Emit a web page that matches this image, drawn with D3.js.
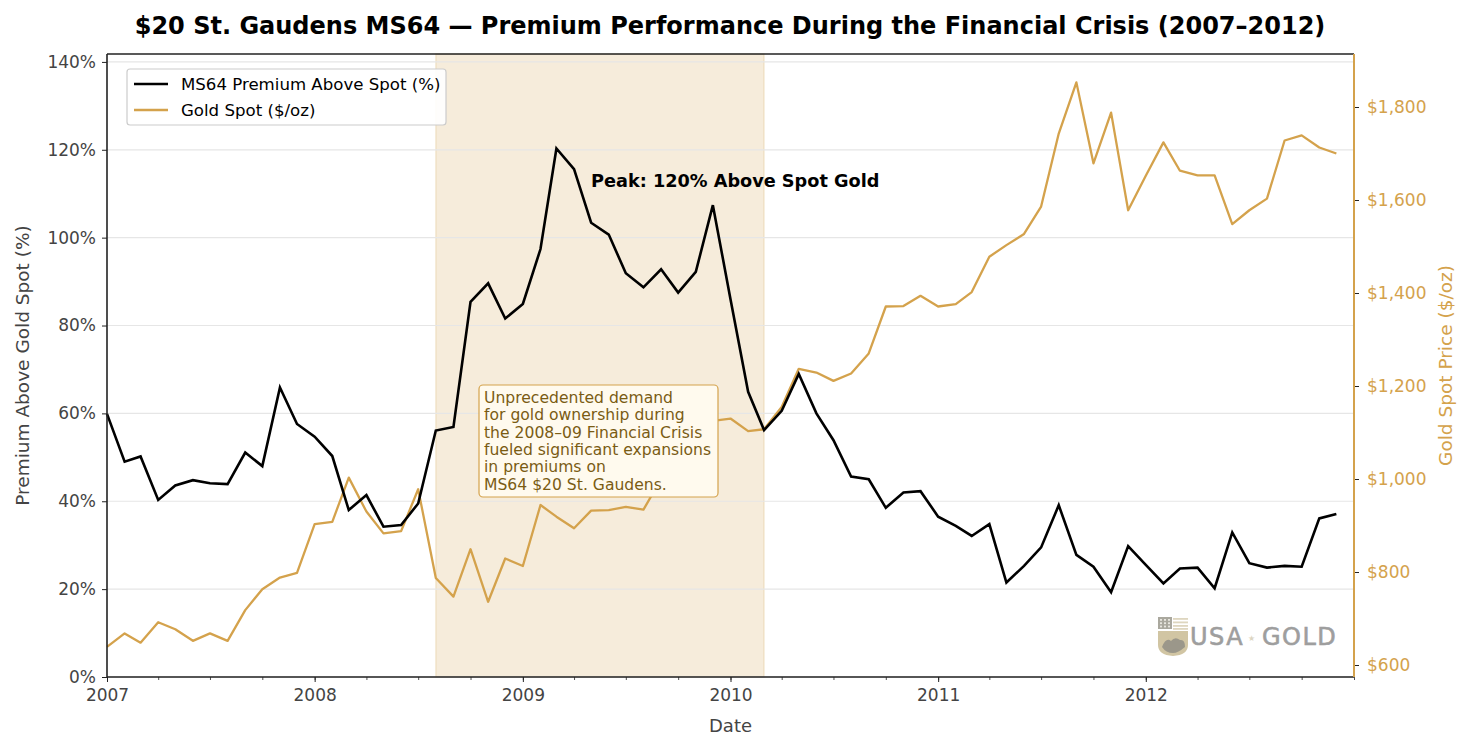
<!DOCTYPE html>
<html>
<head>
<meta charset="utf-8">
<script src="https://cdn.jsdelivr.net/npm/d3@7"></script>
<style>
  body { margin: 0; background: #fff; }
  text { font-family: "DejaVu Sans", sans-serif; }
</style>
</head>
<body>
<script>
// monthly observations, first of each month
var months = [
  "2007-01","2007-02","2007-03","2007-04","2007-05","2007-06","2007-07","2007-08","2007-09","2007-10","2007-11","2007-12",
  "2008-01","2008-02","2008-03","2008-04","2008-05","2008-06","2008-07","2008-08","2008-09","2008-10","2008-11","2008-12",
  "2009-01","2009-02","2009-03","2009-04","2009-05","2009-06","2009-07","2009-08","2009-09","2009-10","2009-11","2009-12",
  "2010-01","2010-02","2010-03","2010-04","2010-05","2010-06","2010-07","2010-08","2010-09","2010-10","2010-11","2010-12",
  "2011-01","2011-02","2011-03","2011-04","2011-05","2011-06","2011-07","2011-08","2011-09","2011-10","2011-11","2011-12",
  "2012-01","2012-02","2012-03","2012-04","2012-05","2012-06","2012-07","2012-08","2012-09","2012-10","2012-11","2012-12"
];

var premium = [
  59.9, 49.0, 50.2, 40.3, 43.6, 44.8, 44.1, 43.9, 51.1, 48.0, 65.9, 57.6,
  54.7, 50.3, 38.0, 41.4, 34.2, 34.6, 39.5, 56.1, 56.9, 85.4, 89.6, 81.6,
  84.9, 97.4, 120.3, 115.6, 103.4, 100.7, 91.9, 88.7, 92.8, 87.5, 92.2, 107.4,
  86.0, 64.9, 56.2, 60.6, 69.0, 60.0, 53.9, 45.6, 45.0, 38.5, 42.0, 42.3,
  36.5, 34.4, 32.1, 34.8, 21.5, 25.3, 29.5, 39.1, 27.8, 25.1, 19.3, 29.8,
  25.5, 21.3, 24.7, 24.9, 20.2, 32.9, 25.9, 24.9, 25.3, 25.1, 36.1, 37.1
];

var goldSpot = [
  639, 668, 648, 692, 677, 652, 668, 652, 718, 763, 788, 798,
  903, 908, 1003, 930, 883, 888, 978, 787, 747, 849, 736, 829,
  813, 944, 919, 894, 932, 933, 940, 934, 1000, 1062, 1133, 1125,
  1130, 1103, 1107, 1155, 1237, 1229, 1211, 1227, 1270, 1371, 1372, 1394,
  1371, 1376, 1402, 1478, 1503, 1527, 1586, 1743, 1853, 1679, 1788, 1578,
  1652, 1724, 1663, 1653, 1653, 1548, 1578, 1603, 1728, 1739, 1713, 1700
];

var crisisSpan = ["2008-08-01", "2010-03-01"];
var yearTicks = ["2007", "2008", "2009", "2010", "2011", "2012"];
var premiumTicks = [0, 20, 40, 60, 80, 100, 120, 140];
var goldTicks = [600, 800, 1000, 1200, 1400, 1600, 1800];
var noteLines = [
  "Unprecedented demand",
  "for gold ownership during",
  "the 2008\u201309 Financial Crisis",
  "fueled significant expansions",
  "in premiums on",
  "MS64 $20 St. Gaudens."
];

(function() {
  var W = 1471, H = 750;
  var mLeft = 107, mRight = 1354, mTop = 54, mBottom = 677;
  var gold = "#d4a24c";
  var tickFont = "17px";
  var parse = d3.utcParse("%Y-%m");
  var parseDay = d3.utcParse("%Y-%m-%d");

  var data = months.map(function(m, i) {
    return { date: parse(m), premium: premium[i], gold: goldSpot[i] };
  });

  var svg = d3.select("body").append("svg")
    .attr("width", W)
    .attr("height", H);

  var x = d3.scaleUtc()
    .domain([parseDay("2007-01-01"), parseDay("2013-01-01")])
    .range([mLeft, mRight]);
  var y = d3.scaleLinear().domain([0, 141.8]).range([mBottom, mTop]);
  var y2 = d3.scaleLinear().domain([574.2, 1914]).range([mBottom, mTop]);

  // crisis shading
  var s0 = x(parseDay(crisisSpan[0]));
  var s1 = x(parseDay(crisisSpan[1]));
  svg.append("rect")
    .attr("x", s0).attr("y", mTop)
    .attr("width", s1 - s0).attr("height", mBottom - mTop)
    .attr("fill", gold).attr("fill-opacity", 0.2)
    .attr("stroke", gold).attr("stroke-opacity", 0.2).attr("stroke-width", 1.5);

  // horizontal grid
  svg.append("g")
    .selectAll("line")
    .data(premiumTicks)
    .enter()
    .append("line")
    .attr("x1", mLeft).attr("x2", mRight)
    .attr("y1", function(d) { return y(d); })
    .attr("y2", function(d) { return y(d); })
    .attr("stroke", "#e6e6e6")
    .attr("stroke-width", 1.2);

  // watermark
  var wm = svg.append("g").attr("transform", "translate(1158,617)").attr("opacity", 0.85);
  wm.append("rect").attr("x", 0).attr("y", 0).attr("width", 14).attr("height", 12).attr("fill", "#9c9a8e");
  for (var r = 0; r < 3; r++) {
    for (var c = 0; c < 3; c++) {
      wm.append("rect").attr("x", 2 + c * 4).attr("y", 2 + r * 3.3).attr("width", 2).attr("height", 1.8).attr("fill", "#e4e2da");
    }
  }
  [1, 4.5, 8, 11].forEach(function(yy) {
    wm.append("rect").attr("x", 15).attr("y", yy).attr("width", 15).attr("height", 1.8).attr("fill", "#d9cfb4");
  });
  wm.append("path")
    .attr("d", "M0,14 L30,14 L30,28 Q30,38 15,39 Q0,38 0,28 Z")
    .attr("fill", "#c9bb93");
  wm.append("path")
    .attr("d", "M4,30 Q8,20 13,24 Q17,19 22,23 Q27,22 27,30 Q20,36 15,36 Q8,36 4,30 Z")
    .attr("fill", "#8a8676");
  wm.append("text")
    .attr("x", 32).attr("y", 28)
    .attr("font-family", "'Liberation Sans', sans-serif")
    .attr("font-size", "24px")
    .attr("letter-spacing", "1.5px")
    .attr("fill", "#8e8e8e").attr("stroke", "#8e8e8e").attr("stroke-width", 0.6)
    .text("USA");
  wm.append("text")
    .attr("x", 90).attr("y", 24)
    .attr("font-size", "8px")
    .attr("fill", "#d8cfb8")
    .text("\u2605");
  wm.append("text")
    .attr("x", 104).attr("y", 28)
    .attr("font-family", "'Liberation Sans', sans-serif")
    .attr("font-size", "24px")
    .attr("letter-spacing", "1.5px")
    .attr("fill", "#8e8e8e").attr("stroke", "#8e8e8e").attr("stroke-width", 0.6)
    .text("GOLD");

  // lines
  var goldLine = d3.line()
    .x(function(d) { return x(d.date); })
    .y(function(d) { return y2(d.gold); });
  var premLine = d3.line()
    .x(function(d) { return x(d.date); })
    .y(function(d) { return y(d.premium); });

  svg.append("path")
    .datum(data)
    .attr("d", goldLine)
    .attr("fill", "none")
    .attr("stroke", gold)
    .attr("stroke-width", 2.3)
    .attr("stroke-linejoin", "round");

  svg.append("path")
    .datum(data)
    .attr("d", premLine)
    .attr("fill", "none")
    .attr("stroke", "#000")
    .attr("stroke-width", 2.6);

  // axes
  var xAxis = svg.append("g")
    .attr("transform", "translate(0," + mBottom + ")")
    .call(d3.axisBottom(x)
      .tickValues(yearTicks.map(function(s) { return d3.utcParse("%Y")(s); }))
      .tickFormat(d3.utcFormat("%Y")).tickSizeOuter(0).tickSize(5).tickPadding(7));
  xAxis.select(".domain").remove();
  xAxis.selectAll("line").attr("stroke", "#222").attr("stroke-width", 1);
  xAxis.selectAll("text").attr("font-size", tickFont).attr("fill", "#444");

  var xMinor = svg.append("g")
    .attr("transform", "translate(0," + mBottom + ")")
    .call(d3.axisBottom(x).ticks(d3.utcMonth.every(3)).tickFormat("").tickSizeOuter(0).tickSize(3));
  xMinor.select(".domain").remove();
  xMinor.selectAll("line").attr("stroke", "#222").attr("stroke-width", 0.8);

  var yAxis = svg.append("g")
    .attr("transform", "translate(" + mLeft + ",0)")
    .call(d3.axisLeft(y).tickValues(premiumTicks).tickFormat(function(d) { return d + "%"; }).tickSizeOuter(0).tickSize(5).tickPadding(6));
  yAxis.select(".domain").remove();
  yAxis.selectAll("line").attr("stroke", "#222");
  yAxis.selectAll("text").attr("font-size", tickFont).attr("fill", "#444");

  var yAxis2 = svg.append("g")
    .attr("transform", "translate(" + mRight + ",0)")
    .call(d3.axisRight(y2).tickValues(goldTicks).tickFormat(function(d) { return "$" + d3.format(",")(d); }).tickSizeOuter(0).tickSize(5).tickPadding(8));
  yAxis2.select(".domain").remove();
  yAxis2.selectAll("line").attr("stroke", "#222");
  yAxis2.selectAll("text").attr("font-size", tickFont).attr("fill", gold);

  // spines
  svg.append("line").attr("x1", mLeft).attr("x2", mRight).attr("y1", mTop).attr("y2", mTop).attr("stroke", "#222").attr("stroke-width", 1.6);
  svg.append("line").attr("x1", mLeft).attr("x2", mRight).attr("y1", mBottom).attr("y2", mBottom).attr("stroke", "#222").attr("stroke-width", 1.6);
  svg.append("line").attr("x1", mLeft).attr("x2", mLeft).attr("y1", mTop).attr("y2", mBottom).attr("stroke", "#222").attr("stroke-width", 1.6);
  svg.append("line").attr("x1", mRight).attr("x2", mRight).attr("y1", mTop).attr("y2", mBottom).attr("stroke", gold).attr("stroke-width", 2);

  // axis titles
  svg.append("text")
    .attr("x", (mLeft + mRight) / 2).attr("y", 732)
    .attr("text-anchor", "middle")
    .attr("font-size", "18px").attr("fill", "#444")
    .text("Date");
  svg.append("text")
    .attr("transform", "translate(29," + (mTop + mBottom) / 2 + ")rotate(-90)")
    .attr("text-anchor", "middle")
    .attr("font-size", "18.5px").attr("fill", "#444")
    .text("Premium Above Gold Spot (%)");
  svg.append("text")
    .attr("transform", "translate(1452," + (mTop + mBottom) / 2 + ")rotate(-90)")
    .attr("text-anchor", "middle")
    .attr("font-size", "18.5px").attr("fill", gold)
    .text("Gold Spot Price ($/oz)");

  // title
  svg.append("text")
    .attr("x", 730).attr("y", 34)
    .attr("text-anchor", "middle")
    .attr("font-size", "24px").attr("font-weight", "bold").attr("fill", "#000")
    .text("$20 St. Gaudens MS64 \u2014 Premium Performance During the Financial Crisis (2007\u20132012)");

  // peak label
  svg.append("text")
    .attr("x", 591).attr("y", 187)
    .attr("font-size", "17.7px").attr("font-weight", "bold").attr("fill", "#000")
    .text("Peak: 120% Above Spot Gold");

  // note box
  svg.append("rect")
    .attr("x", 479).attr("y", 385)
    .attr("width", 239).attr("height", 112)
    .attr("rx", 4)
    .attr("fill", "#fffaee")
    .attr("stroke", gold).attr("stroke-width", 1.2);
  svg.append("g")
    .selectAll("text")
    .data(noteLines)
    .enter()
    .append("text")
    .attr("x", 484)
    .attr("y", function(d, i) { return 403 + i * 17.3; })
    .attr("font-size", "15.6px")
    .attr("fill", "#7a5c14")
    .text(function(d) { return d; });

  // legend
  var lg = svg.append("g");
  lg.append("rect")
    .attr("x", 127).attr("y", 69)
    .attr("width", 319).attr("height", 56)
    .attr("rx", 3)
    .attr("fill", "#fff").attr("fill-opacity", 0.9)
    .attr("stroke", "#cccccc").attr("stroke-width", 1.2);
  lg.append("line").attr("x1", 134).attr("x2", 168).attr("y1", 84).attr("y2", 84).attr("stroke", "#000").attr("stroke-width", 2.6);
  lg.append("line").attr("x1", 134).attr("x2", 168).attr("y1", 110).attr("y2", 110).attr("stroke", gold).attr("stroke-width", 2.3);
  lg.append("text").attr("x", 181).attr("y", 90).attr("font-size", "16.6px").attr("fill", "#000").text("MS64 Premium Above Spot (%)");
  lg.append("text").attr("x", 181).attr("y", 116).attr("font-size", "16.6px").attr("fill", "#000").text("Gold Spot ($/oz)");
})();
</script>
</body>
</html>
